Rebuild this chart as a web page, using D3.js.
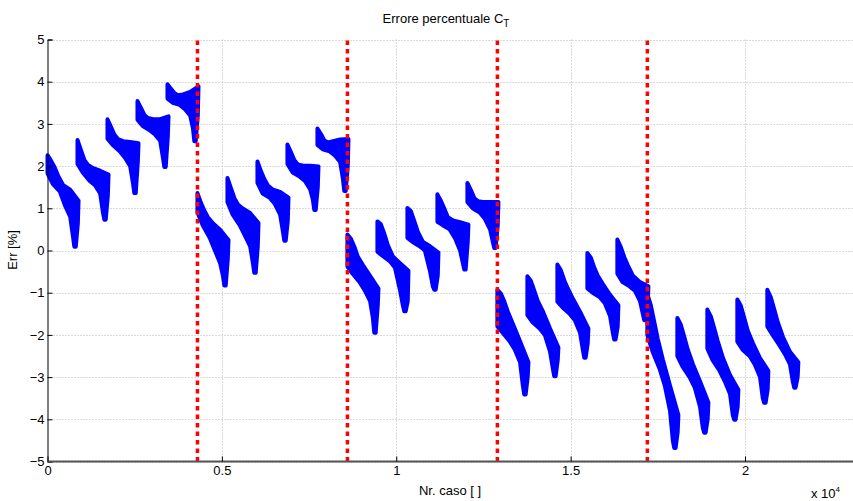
<!DOCTYPE html>
<html>
<head>
<meta charset="utf-8">
<script src="https://cdn.jsdelivr.net/npm/d3@7"></script>
<style>
  body { margin: 0; background: #fff; }
  svg { display: block; font-family: "Liberation Sans", Arial, sans-serif; }
</style>
</head>
<body>
<div id="chart"></div>
<script>
"use strict";

// cases per cluster and where the red separators go
const casesPerCluster = 860;
const groupEdges = [4300, 8600, 12900, 17200];

const xTicks = [0, 5000, 10000, 15000, 20000];
const xTickLabels = ["0", "0.5", "1", "1.5", "2"];
const yTicks = [-5, -4, -3, -2, -1, 0, 1, 2, 3, 4, 5];

// outline of each cluster (offsets are cases inside the cluster)
const upperOffsets = [0, 100, 200, 300, 450, 650, 890];
const rightOffset = 870;
const bottomOffsets = [810, 770];
const lowerOffsets = [730, 650, 500, 350, 150, 0];

const clusterUpper = [
  [2.26, 2.13, 1.98, 1.78, 1.55, 1.44, 1.18],
  [2.62, 2.38, 2.14, 2.03, 1.95, 1.89, 1.8],
  [3.11, 2.93, 2.74, 2.64, 2.59, 2.57, 2.54],
  [3.54, 3.38, 3.21, 3.14, 3.11, 3.11, 3.18],
  [3.94, 3.83, 3.73, 3.68, 3.7, 3.76, 3.89],
  [1.36, 1.13, 0.94, 0.79, 0.64, 0.49, 0.25],
  [1.72, 1.48, 1.24, 1.09, 0.99, 0.89, 0.65],
  [2.11, 1.88, 1.69, 1.54, 1.44, 1.39, 1.25],
  [2.51, 2.33, 2.14, 2.04, 2.01, 2.01, 1.99],
  [2.89, 2.76, 2.61, 2.56, 2.59, 2.63, 2.64],
  [0.38, 0.28, 0.09, -0.15, -0.35, -0.6, -0.9],
  [0.69, 0.62, 0.39, 0.12, -0.15, -0.3, -0.48],
  [1.01, 0.93, 0.69, 0.44, 0.2, 0.1, -0.05],
  [1.33, 1.18, 0.99, 0.79, 0.71, 0.67, 0.61],
  [1.6, 1.43, 1.24, 1.17, 1.15, 1.15, 1.15],
  [-0.93, -1.02, -1.21, -1.45, -1.75, -2.15, -2.65],
  [-0.61, -0.72, -0.96, -1.2, -1.45, -1.85, -2.3],
  [-0.33, -0.47, -0.71, -0.9, -1.15, -1.45, -1.85],
  [-0.06, -0.17, -0.41, -0.6, -0.8, -1.05, -1.3],
  [0.26, 0.08, -0.16, -0.35, -0.6, -0.75, -0.85],
  [-1.03, -1.3, -1.7, -2.1, -2.6, -3.2, -3.9],
  [-1.6, -1.76, -2.05, -2.35, -2.7, -3.1, -3.6],
  [-1.4, -1.56, -1.85, -2.15, -2.55, -2.95, -3.3],
  [-1.16, -1.31, -1.6, -1.9, -2.2, -2.55, -2.85],
  [-0.93, -1.11, -1.4, -1.7, -2.05, -2.4, -2.65]
];
const clusterRight = [0.64, 1.3, 2.1, 2.7, 3.2, -0.2, 0.1, 0.7, 1.5, 2.0,
  -1.3, -1.2, -0.6, 0.2, 0.6, -3.0, -2.6, -2.2, -1.8, -1.3,
  -4.3, -4.0, -3.7, -3.3, -3.0];
const clusterBottom = [0.09, 0.73, 1.36, 1.98, 2.59, -0.83, -0.53, 0.23, 0.96, 1.41,
  -1.95, -1.44, -0.93, -0.45, 0.06, -3.41, -2.98, -2.54, -2.11, -1.65,
  -4.68, -4.32, -4.01, -3.61, -3.25];
const clusterLower = [
  [0.33, 0.8, 1.07, 1.4, 1.58, 1.83],
  [0.9, 1.35, 1.55, 1.65, 1.85, 2.05],
  [1.6, 2.0, 2.2, 2.35, 2.5, 2.65],
  [2.2, 2.6, 2.75, 2.85, 2.95, 3.1],
  [2.9, 3.2, 3.35, 3.45, 3.5, 3.6],
  [-0.6, -0.3, 0.0, 0.3, 0.6, 0.9],
  [-0.3, 0.1, 0.35, 0.6, 0.85, 1.15],
  [0.45, 0.85, 1.1, 1.25, 1.35, 1.6],
  [1.2, 1.45, 1.65, 1.75, 1.85, 2.05],
  [1.7, 2.1, 2.25, 2.35, 2.4, 2.5],
  [-1.6, -1.2, -0.95, -0.75, -0.55, -0.38],
  [-1.3, -0.95, -0.4, -0.25, -0.13, -0.03],
  [-0.85, -0.5, 0.0, 0.1, 0.2, 0.3],
  [-0.3, 0.0, 0.3, 0.5, 0.6, 0.68],
  [0.2, 0.5, 0.75, 0.9, 1.0, 1.15],
  [-3.2, -2.65, -2.35, -2.15, -1.95, -1.8],
  [-2.8, -2.4, -2.0, -1.85, -1.7, -1.53],
  [-2.35, -1.95, -1.65, -1.5, -1.35, -1.21],
  [-1.95, -1.55, -1.25, -1.1, -1.0, -0.9],
  [-1.5, -1.2, -0.95, -0.85, -0.75, -0.55],
  [-4.5, -3.8, -3.2, -2.8, -2.4, -2.0],
  [-4.2, -3.7, -3.25, -3.0, -2.75, -2.5],
  [-3.9, -3.4, -3.1, -2.85, -2.6, -2.32],
  [-3.5, -3.0, -2.7, -2.5, -2.35, -2.16],
  [-3.1, -2.7, -2.45, -2.25, -2.0, -1.8]
];

const W = 853, H = 501;
const plotL = 47.5, plotT = 39.5, plotB = 461.5, edgeR = 853;
const fontSize = 13;

const x = d3.scaleLinear().domain([0, 20000]).range([plotL, 745]);
const y = d3.scaleLinear().domain([-5, 5]).range([plotB, plotT]);

const svg = d3.select("#chart").append("svg")
  .attr("width", W).attr("height", H);

// dotted grid
const grid = svg.append("g").attr("stroke", "#b4b4b4").attr("stroke-width", 1)
  .attr("stroke-dasharray", "1,2");
grid.selectAll("line.gy").data(yTicks).join("line").attr("class", "gy")
  .attr("x1", plotL).attr("x2", edgeR)
  .attr("y1", d => Math.round(y(d)) + 0.5).attr("y2", d => Math.round(y(d)) + 0.5);
grid.selectAll("line.gx").data(xTicks.slice(1)).join("line").attr("class", "gx")
  .attr("x1", d => Math.round(x(d)) + 0.5).attr("x2", d => Math.round(x(d)) + 0.5)
  .attr("y1", plotT).attr("y2", plotB);

// clusters
const outline = d3.line()
  .x(d => x(d[0]))
  .y(d => y(d[1]))
  .curve(d3.curveLinearClosed);

const clusters = clusterUpper.map((up, i) => {
  const start = i * casesPerCluster;
  const pts = [];
  up.forEach((v, j) => pts.push([start + upperOffsets[j], v]));
  pts.push([start + rightOffset, clusterRight[i]]);
  bottomOffsets.forEach(o => pts.push([start + o, clusterBottom[i]]));
  clusterLower[i].forEach((v, j) => pts.push([start + lowerOffsets[j], v]));
  return pts;
});

svg.append("g").selectAll("path").data(clusters).join("path")
  .attr("d", outline)
  .attr("fill", "#0000ff")
  .attr("stroke", "#0000ff")
  .attr("stroke-width", 4)
  .attr("stroke-linejoin", "round");

// red separators
svg.append("g").selectAll("line").data(groupEdges).join("line")
  .attr("x1", d => x(d)).attr("x2", d => x(d))
  .attr("y1", plotT + 1).attr("y2", plotB)
  .attr("stroke", "#ff0000").attr("stroke-width", 3.5)
  .attr("stroke-dasharray", "4.5,4");

// axes
const yAxis = svg.append("g").attr("transform", `translate(${Math.round(plotL) - 0.5},0)`)
  .call(d3.axisLeft(y).tickValues(yTicks).tickSize(-5).tickPadding(3).tickFormat(d => d < 0 ? "\u2212" + (-d) : d));
const xAxis = svg.append("g").attr("transform", `translate(0,${plotB})`)
  .call(d3.axisBottom(x).tickValues(xTicks).tickSize(-5).tickPadding(4).tickFormat((d, i) => xTickLabels[i]));

[yAxis, xAxis].forEach(a => {
  a.select(".domain").attr("stroke", "#000");
  a.selectAll(".tick line").attr("stroke", "#000");
  a.selectAll("text").attr("font-size", fontSize).attr("fill", "#000")
    .attr("font-family", "Liberation Sans, Arial, sans-serif");
});
xAxis.select(".domain").attr("d", `M${plotL},0H${edgeR}`)
  .attr("stroke", "#555").attr("stroke-width", 2);

// labels
svg.append("text").attr("x", 446).attr("y", 22.5).attr("text-anchor", "middle")
  .attr("font-size", fontSize).text("Errore percentuale C")
  .append("tspan").attr("dy", 4).attr("font-size", 10).text("T");

svg.append("text").attr("x", 450).attr("y", 495).attr("text-anchor", "middle")
  .attr("font-size", fontSize).text("Nr. caso [ ]");

svg.append("text").attr("transform", "translate(17,250) rotate(-90)")
  .attr("text-anchor", "middle").attr("font-size", fontSize).text("Err [%]");

svg.append("text").attr("x", 811).attr("y", 498).attr("font-size", fontSize)
  .text("x 10").append("tspan").attr("dy", -6).attr("font-size", 8).text("4");
</script>
</body>
</html>
